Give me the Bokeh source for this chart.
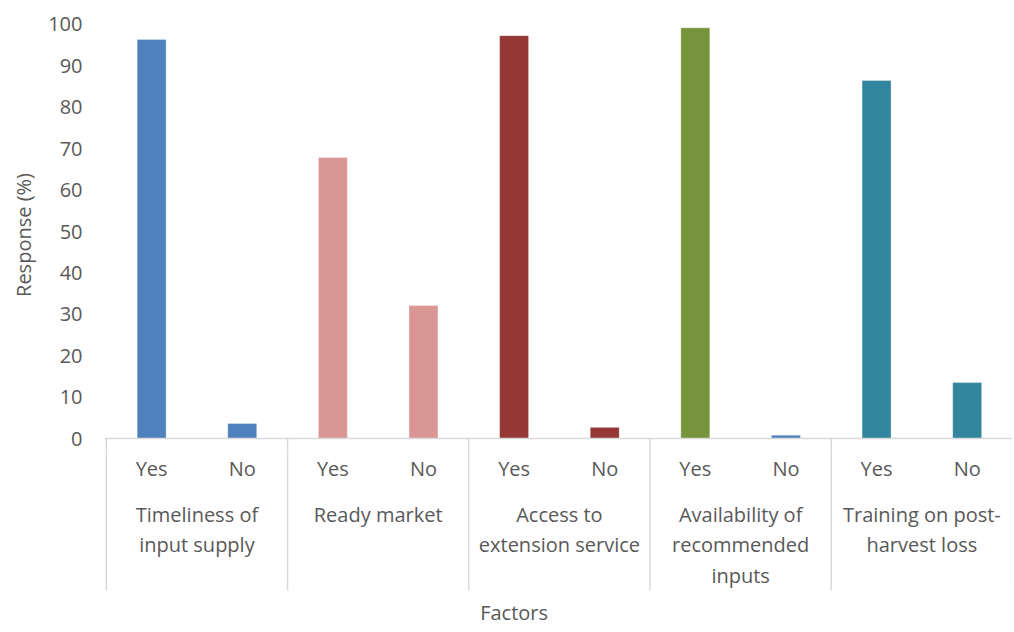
from bokeh.plotting import figure
from bokeh.models import Range1d, FixedTicker, ColumnDataSource, Span
from bokeh.layouts import column
from bokeh.core.properties import value
from bokeh.embed import file_html
from bokeh.resources import INLINE

# ---- data ----
factors = ["Timeliness of\ninput supply", "Ready market", "Access to\nextension service",
           "Availability of\nrecommended\ninputs", "Training on post-\nharvest loss"]
responses = ["Yes", "No"]
yes_pct = [96.4, 67.9, 97.3, 99.2, 86.5]
no_pct = [3.6, 32.1, 2.7, 0.8, 13.5]
y_ticks = [0, 10, 20, 30, 40, 50, 60, 70, 80, 90, 100]
x_title = "Factors"
y_title = "Response (%)"

# ---- styles ----
yes_colors = ["#4F81BD", "#D99694", "#953735", "#77933C", "#31859C"]
no_colors = ["#4F81BD", "#D99694", "#953735", "#4F81BD", "#31859C"]
TXT = "#595959"
AXC = "#D9D9D9"
FONT = "Open Sans"
FS = "20px"

n = len(factors)
xs, tops, cols, subs = [], [], [], []
for i in range(n):
    for j, (vals, cl) in enumerate(((yes_pct, yes_colors), (no_pct, no_colors))):
        xs.append(i + 0.25 + 0.5 * j)
        tops.append(vals[i])
        cols.append(cl[i])
        subs.append(responses[j])
src = ColumnDataSource(dict(x=xs, top=tops, color=cols, sub=subs))

W = 1012
x_range = Range1d(-0.01, n)

# ---- top figure: bars ----
p = figure(width=W, height=453, x_range=x_range, y_range=Range1d(-3.62, 101.93),
           output_backend="svg", toolbar_location=None,
           min_border_left=104, min_border_right=0, min_border_top=16, min_border_bottom=0)
p.vbar(x="x", top="top", bottom=0, width=0.16, fill_color="color",
       line_color="white", line_alpha=0.35, line_width=1, source=src)
p.add_layout(Span(location=0, dimension="width", line_color=AXC, line_width=1.5))
p.segment(x0=list(range(n + 1)), y0=[0] * (n + 1), x1=list(range(n + 1)), y1=[-5] * (n + 1),
          line_color=AXC, line_width=1.5)
p.xaxis.visible = False
p.xgrid.grid_line_color = None
p.ygrid.grid_line_color = None
p.outline_line_color = None
ya = p.yaxis[0]
ya.ticker = FixedTicker(ticks=y_ticks)
ya.axis_line_color = None
ya.major_tick_line_color = None
ya.minor_tick_line_color = None
ya.major_label_text_font = FONT
ya.major_label_text_font_size = FS
ya.major_label_text_color = TXT
ya.major_label_standoff = 16
ya.axis_label = y_title
ya.axis_label_text_font = FONT
ya.axis_label_text_font_size = FS
ya.axis_label_text_font_style = "normal"
ya.axis_label_text_color = TXT
ya.axis_label_standoff = 8

# ---- bottom figure: category axis ----
q = figure(width=W, height=177, x_range=x_range, y_range=Range1d(177, 0),
           output_backend="svg", toolbar_location=None,
           min_border_left=104, min_border_right=0, min_border_top=0, min_border_bottom=0)
q.xaxis.visible = False
q.yaxis.visible = False
q.xgrid.grid_line_color = None
q.ygrid.grid_line_color = None
q.outline_line_color = None
q.segment(x0=list(range(n + 1)), y0=[-2] * (n + 1), x1=list(range(n + 1)), y1=[137] * (n + 1),
          line_color=AXC, line_width=1.5)
q.text(x="x", y=15, text="sub", source=src, text_font=value(FONT), text_font_size=FS,
       text_color=TXT, text_align="center", text_baseline="middle")
q.text(x=[i + 0.5 for i in range(n)], y=[47] * n, text=factors, text_font=value(FONT),
       text_font_size=FS, text_color=TXT, text_align="center", text_baseline="top",
       text_line_height=1.13)
q.text(x=[2.25], y=[159], text=[x_title], text_font=value(FONT), text_font_size=FS,
       text_color=TXT, text_align="center", text_baseline="middle")

layout = column(p, q, spacing=0)
open("out.html", "w").write(file_html(layout, INLINE))
